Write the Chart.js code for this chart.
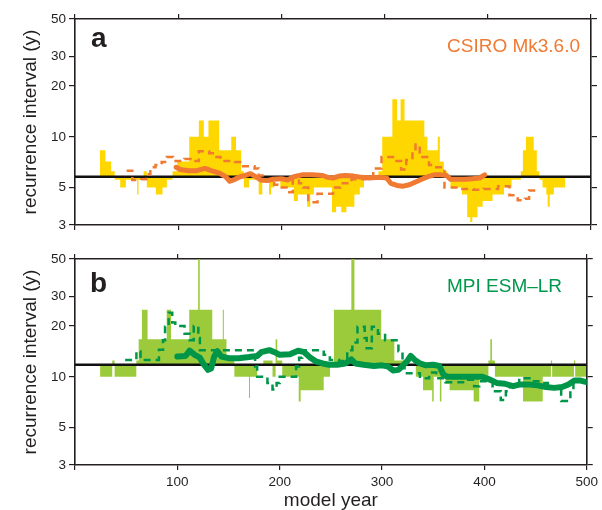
<!DOCTYPE html>
<html>
<head>
<meta charset="utf-8">
<script src="https://cdn.jsdelivr.net/npm/chart.js@4.4.1/dist/chart.umd.min.js"></script>
<style>
    body { margin: 0; background: #fff; }
    #wrap { position: relative; width: 602px; height: 510px; font-family: "Liberation Sans", Arial, Helvetica, sans-serif; }
    .panel { position: absolute; left: 0; }
    .letter { position: absolute; font-size: 28px; line-height: 28px; font-weight: bold; color: #231f20; }
    .model { position: absolute; font-size: 19px; line-height: 19px; white-space: nowrap; }
</style>
</head>
<body>
<div id="wrap">
    <div class="panel" style="top:0"><canvas id="chartA" width="602" height="240"></canvas></div>
    <div class="panel" style="top:240px"><canvas id="chartB" width="602" height="270"></canvas></div>
    <div class="letter" style="left:91px; top:24px">a</div>
    <div class="letter" style="left:90px; top:269px">b</div>
    <div class="model" style="left:447px; top:36px; color:#f07a32">CSIRO Mk3.6.0</div>
    <div class="model" style="left:447px; top:276px; color:#00984a">MPI ESM–LR</div>
</div>
<script>
// axis ticks
const yTicks = [3, 5, 10, 20, 30, 50];
const xTicks = [0, 100, 200, 300, 400, 500];

// panel a: CSIRO Mk3.6.0
const csiroBaseline = 5.8;
const csiroBarYears = [24, 29.5, 35, 38.5, 43.8, 49.3, 60.2, 61.5, 66.5, 69.6, 78.3, 84.8, 89, 94.5, 99, 110.7, 120, 124.8, 129.3, 139.7,
    151.4, 156, 161, 163.6, 168.6, 178, 181.5, 188, 190, 193, 199, 212, 216, 225, 228, 231.5, 249, 253, 258, 263,
    270.7, 276, 280, 294, 297.7, 307.5, 312, 315.5, 319.3, 338.5, 341.5, 351.5, 353.5, 357.4, 360.6, 363.8, 375, 380, 383, 385,
    390, 395, 404.6, 415.7, 423, 432, 434, 437, 444.5, 447.5, 450, 453, 456.7, 458, 460, 464, 475];
const csiroBarValues = [8.33, 7.14, 6.25, 5.56, 5.0, 5.56, 4.55, 5.56, 6.25, 5.0, 4.55, 5.0, 5.56, 6.25, 7.14, 10, 12.5, 10, 12.5, 8.33,
    10, 8.33, 6.25, 5.0, 5.56, 4.55, 5.56, 4.55, 5.0, 5.56, 5.0, 4.17, 4.55, 3.85, 4.55, 5.0, 3.57, 3.85, 3.57, 3.85,
    4.55, 5.0, 5.56, 6.25, 10, 16.7, 12.5, 16.7, 12.5, 10, 8.33, 10, 7.14, 6.25, 5.56, 5.0, 4.55, 3.33, 3.13, 3.33,
    3.85, 4.17, 4.55, 5.0, 5.56, 6.25, 8.33, 10, 8.33, 6.25, 5.56, 5.0, 4.55, 3.85, 4.55, 5.0, 5.0];
const csiroDashYears = [50, 55.5, 64, 69, 73, 78, 84, 89, 95, 101, 106, 112, 120, 130, 135, 141, 149, 155, 163, 174,
    178, 185, 193, 199, 205, 211, 217, 221, 226, 235, 250, 257, 268, 281, 289, 297, 306, 310, 316, 321,
    327, 330, 334, 343, 350, 358, 371, 386, 396, 410, 421, 429, 436, 440, 446];
const csiroDashValues = [6.3, 5.55, 5.6, 6.0, 6.6, 6.8, 7.1, 7.6, 7.2, 7.2, 7.4, 7.2, 8.2, 8.0, 7.6, 7.2, 7.2, 7.1, 6.7, 6.5,
    5.9, 5.6, 5.2, 5.0, 4.7, 5.6, 5.3, 5.0, 4.1, 4.6, 5.0, 5.3, 5.6, 5.8, 6.5, 7.6, 7.6, 7.2, 6.4, 7.3,
    8.1, 9.0, 7.6, 6.8, 6.6, 5.0, 4.9, 4.85, 4.9, 5.1, 4.5, 4.2, 4.3, 4.8, 4.8];
const csiroMeanYears = [98, 102, 110, 118, 126, 132, 140, 146, 150, 155, 160, 165, 170, 175, 180, 186, 192, 200, 206, 212,
    220, 230, 240, 245, 250, 256, 262, 270, 278, 285, 295, 302, 306, 312, 318, 324, 330, 336, 342, 348,
    355, 360, 364, 370, 378, 385, 392, 397];
const csiroMeanValues = [6.6, 6.4, 6.3, 6.3, 6.5, 6.3, 6.1, 5.8, 5.45, 5.6, 5.8, 5.9, 6.05, 5.8, 5.55, 5.5, 5.6, 5.65, 5.55, 5.8,
    5.95, 5.95, 5.9, 5.75, 5.7, 5.85, 5.9, 5.85, 5.75, 5.7, 5.75, 5.7, 5.3, 5.15, 5.1, 5.2, 5.4, 5.6, 5.8, 5.95,
    5.95, 5.9, 5.6, 5.6, 5.6, 5.65, 5.7, 5.95];

// panel b: MPI ESM-LR
const mpiBaseline = 11.8;
const mpiBarYears = [24.5, 36.4, 38.7, 59.9, 62.2, 65.4, 70.9, 89.6, 93.8, 111.6, 120.3, 121.9, 134.1, 144.4, 145.4, 148, 155.7, 170, 171, 178,
    184, 193, 196, 197.6, 202.5, 218.6, 220.5, 243, 249.2, 253, 270, 273, 299.2, 312, 326, 333, 340, 349, 350.5, 356.5,
    358, 362, 366, 389.5, 395, 403.9, 405.8, 407.4, 410.3, 437.7, 457, 465, 466.2, 487.5, 488.7, 499.5];
const mpiBarValues = [10, 12.5, 10, 12.5, 16.7, 25, 16.7, 25, 16.7, 25, 50, 25, 16.7, 25, 16.7, 12.5, 10, 7.5, 10, 11.8,
    12.5, 10, 16.7, 12.5, 10, 7.14, 8.33, 10, 11.8, 25, 50, 25, 16.7, 12.5, 11.8, 10, 8.33, 7.14, 10, 7.14,
    10, 9.1, 8.33, 7.14, 10, 12.5, 16.7, 12.5, 10, 7.14, 10, 12.5, 10, 12.5, 10, 10];
const mpiDashYears = [49, 57, 60, 64, 72, 82, 86, 88, 91.5, 95, 98, 105, 107, 112, 116, 120.5, 122, 176, 178, 188,
    193, 197, 200, 216, 219, 222, 243, 249, 258, 266, 271, 276, 283, 285, 290, 296, 303, 316, 320, 322,
    337, 346, 353, 362, 382, 390, 395, 403, 408, 416, 421, 425, 434, 446, 455, 462, 475, 484, 487, 497];
const mpiDashValues = [12.6, 12.6, 14.2, 12.6, 12.6, 14.5, 16.5, 19.8, 24, 21, 20, 20, 18, 16.5, 20, 17, 14.4, 11.5, 10, 9.2,
    8.4, 9.2, 10, 11.5, 13, 14.4, 13.5, 12.6, 12.4, 14.4, 16, 19.8, 17, 14.8, 19.8, 18, 16.5, 14.2, 12, 10.5,
    9.8, 10.6, 9.8, 9.3, 9.6, 8.8, 9.4, 9.4, 8.2, 7.3, 8.2, 8.8, 9.8, 9.4, 9.2, 8.8, 7.2, 8.4, 9.4, 9.4];
const mpiMeanYears = [100, 108, 112, 117, 122, 126, 130, 133, 136, 139, 143, 150, 160, 170, 178, 182, 190, 195, 200, 210,
    218, 224, 230, 236, 242, 248, 256, 264, 270, 274, 282, 292, 300, 306, 311, 316, 320, 325, 328, 332,
    337, 343, 350, 356, 360, 364, 380, 390, 398, 402, 406, 412, 420, 428, 434, 444, 452, 460, 468, 476,
    482, 488, 494, 500];
const mpiMeanValues = [13.2, 13.3, 14.3, 13.5, 13.0, 11.8, 11.0, 11.2, 13.2, 14.2, 13.2, 12.9, 12.9, 13.1, 13.3, 14.0, 14.4, 14.0, 13.5, 13.6,
    14.3, 14.0, 13.0, 12.3, 12.0, 11.8, 11.8, 12.0, 12.7, 12.0, 11.8, 11.6, 11.7, 11.5, 10.9, 11.0, 11.6, 12.5, 13.3, 12.6,
    12.0, 11.7, 11.8, 11.6, 10.3, 10.0, 10.0, 10.0, 10.0, 9.8, 9.6, 9.2, 9.1, 8.8, 9.0, 9.0, 8.9, 8.7, 8.6, 8.7,
    9.0, 9.5, 9.5, 9.3];

const fontFamily = '"Liberation Sans", Arial, Helvetica, sans-serif';
const axisColor = '#231f20';

// pair up x and y arrays
function points(xs, ys) {
    return xs.map((x, i) => ({ x: x, y: ys[i] }));
}

function makeScales(showXLabels, bottomHeight) {
    const tickGrid = { display: true, drawOnChartArea: false, drawTicks: true, tickLength: 5, color: axisColor, lineWidth: 1.2 };
    const border = { display: true, color: axisColor, width: 1.6 };
    return {
        x: {
            type: 'linear', position: 'bottom', min: 0, max: 500,
            afterBuildTicks: s => { s.ticks = xTicks.map(v => ({ value: v })); },
            ticks: {
                display: showXLabels, padding: 4, color: axisColor, maxRotation: 0,
                font: { size: 13.5, family: fontFamily },
                callback: v => (v === 0 ? '' : v)
            },
            grid: tickGrid, border: border,
            title: {
                display: showXLabels, text: 'model year', color: axisColor,
                font: { size: 19, family: fontFamily, lineHeight: 1 }, padding: { top: 0, bottom: 0 }
            },
            afterFit: s => { s.height = bottomHeight; }
        },
        xTop: {
            type: 'linear', position: 'top', min: 0, max: 500,
            afterBuildTicks: s => { s.ticks = xTicks.map(v => ({ value: v })); },
            ticks: { display: false },
            grid: tickGrid, border: border,
            afterFit: s => { s.height = 19; }
        },
        y: {
            type: 'logarithmic', position: 'left', min: 3, max: 50,
            afterBuildTicks: s => { s.ticks = yTicks.map(v => ({ value: v })); },
            ticks: {
                padding: 3, color: axisColor, font: { size: 13.5, family: fontFamily },
                callback: v => v
            },
            grid: Object.assign({}, tickGrid, { tickLength: 6 }), border: border,
            title: {
                display: true, text: 'recurrence interval (y)', color: axisColor,
                font: { size: 19, family: fontFamily, lineHeight: 1 }, padding: { top: 21.5, bottom: 0 }
            },
            afterFit: s => { s.width = 75; }
        },
        yRight: {
            type: 'logarithmic', position: 'right', min: 3, max: 50,
            afterBuildTicks: s => { s.ticks = yTicks.map(v => ({ value: v })); },
            ticks: { display: false },
            grid: Object.assign({}, tickGrid, { tickLength: 6 }), border: border,
            afterFit: s => { s.width = 11; }
        }
    };
}

function makeChart(canvasId, cfg) {
    const datasets = [
        {   // running mean, drawn on top
            data: points(cfg.meanYears, cfg.meanValues),
            borderColor: cfg.lineColor, borderWidth: cfg.meanWidth,
            borderJoinStyle: 'round', borderCapStyle: 'round'
        },
        {   // dashed estimate
            data: points(cfg.dashYears, cfg.dashValues),
            borderColor: cfg.lineColor, borderWidth: 2.5, borderDash: [7, 5], stepped: true
        },
        {   // reference line
            data: [{ x: 0, y: cfg.baseline }, { x: 500, y: cfg.baseline }],
            borderColor: '#111', borderWidth: 2.4
        },
        {   // 50-year window bars
            data: points(cfg.barYears, cfg.barValues),
            borderWidth: 0, borderColor: 'rgba(0,0,0,0)', stepped: true,
            fill: { value: cfg.baseline }, backgroundColor: cfg.barColor
        }
    ];
    return new Chart(document.getElementById(canvasId), {
        type: 'line',
        data: { datasets: datasets },
        options: {
            responsive: false,
            animation: false,
            devicePixelRatio: 1,
            layout: { padding: 0 },
            elements: { point: { radius: 0, hoverRadius: 0 }, line: { tension: 0 } },
            plugins: { legend: { display: false }, tooltip: { enabled: false } },
            scales: makeScales(cfg.showXLabels, cfg.bottomHeight)
        }
    });
}

makeChart('chartA', {
    baseline: csiroBaseline,
    barYears: csiroBarYears, barValues: csiroBarValues,
    dashYears: csiroDashYears, dashValues: csiroDashValues,
    meanYears: csiroMeanYears, meanValues: csiroMeanValues,
    barColor: '#ffd700', lineColor: '#f07a32', meanWidth: 5,
    showXLabels: false, bottomHeight: 15
});

makeChart('chartB', {
    baseline: mpiBaseline,
    barYears: mpiBarYears, barValues: mpiBarValues,
    dashYears: mpiDashYears, dashValues: mpiDashValues,
    meanYears: mpiMeanYears, meanValues: mpiMeanValues,
    barColor: '#9bcb3b', lineColor: '#00964a', meanWidth: 6,
    showXLabels: true, bottomHeight: 45
});
</script>
</body>
</html>
